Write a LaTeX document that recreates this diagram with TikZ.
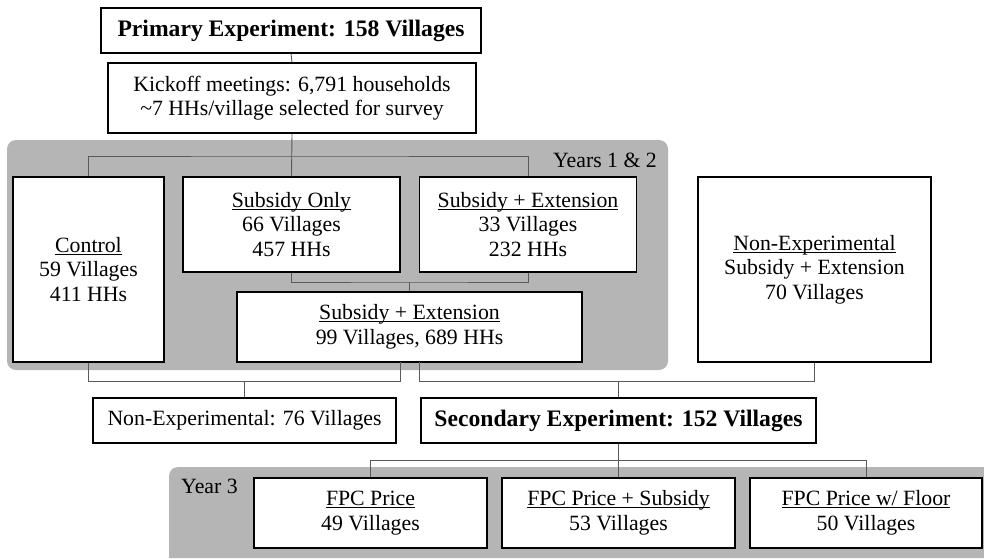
\documentclass[tikz,border=0pt]{standalone}
\usepackage{fontspec}
\setmainfont{Liberation Serif}
\definecolor{panelgray}{HTML}{B5B5B5}
\definecolor{linegray}{HTML}{5A5A5A}
\newlength\refw
\newlength\refb
\newcommand\mainfs{\fontsize{\fsz pt}{24.5pt}\selectfont}
\newcommand\boldfs{\fontsize{\fszb pt}{24.5pt}\selectfont\bfseries}
\newcommand\ul[1]{\leavevmode\setbox0\hbox{#1}\rlap{\rule[-2.2pt]{\wd0}{0.9pt}}\box0}
\begin{document}
\settowidth\refw{\fontsize{10pt}{12pt}\selectfont Non-Experimental: 76 Villages}%
\settowidth\refb{\fontsize{10pt}{12pt}\selectfont\bfseries Primary Experiment: 158 Villages}%
\pgfmathsetmacro\fsz{10*274/\refw}%
\pgfmathsetmacro\fszb{10*347/\refb}%
\begin{tikzpicture}[x=1pt,y=-1pt,
  box/.style={draw=black,line width=1.4pt,fill=white,rectangle,inner sep=0pt,align=center,font=\mainfs},
  conn/.style={draw=linegray,line width=0.9pt},
  lbl/.style={inner sep=0pt,font=\mainfs}]
\useasboundingbox (0,0) rectangle (984,558);
\fill[white] (0,0) rectangle (984,558);
% panels
\fill[panelgray,rounded corners=9pt] (7,140) rectangle (668,370);
\fill[panelgray] (984,558) -- (169,558) [rounded corners=9pt] -- (169,467) [sharp corners] -- (984,467) -- cycle;
\node[lbl,anchor=east] (y12) at (657,160) {Years 1 \& 2};
\node[lbl,anchor=west] (y3) at (181,486) {Year 3};
% junction coordinates
\coordinate (h1) at (291.5,156);
\coordinate (h2) at (409.5,282);
\coordinate (bigL) at (400,362);
\coordinate (bigR) at (419,362);
\coordinate (h3) at (244.5,381);
\coordinate (h4) at (618.5,381);
\coordinate (h5) at (618.5,460);
% boxes
\node[box,font=\boldfs,minimum width=380pt,minimum height=45pt] (prim) at (291,30.5) {Primary Experiment: 158 Villages};
\node[box,minimum width=368pt,minimum height=70pt] (kick) at (292,98) {Kickoff meetings: 6,791 households\\\textasciitilde7 HHs/village selected for survey};
\node[box,minimum width=151pt,minimum height=185pt] (ctrl) at (88.5,269.5) {\ul{Control}\\59 Villages\\411 HHs};
\node[box,minimum width=217pt,minimum height=95pt] (sonly) at (291.5,224.5) {\ul{Subsidy Only}\\66 Villages\\457 HHs};
\node[box,minimum width=217pt,minimum height=95pt] (sext) at (528,224.5) {\ul{Subsidy + Extension}\\33 Villages\\232 HHs};
\node[box,minimum width=345pt,minimum height=70pt] (big) at (409.5,327) {\ul{Subsidy + Extension}\\99 Villages, 689 HHs};
\node[box,minimum width=233pt,minimum height=185pt] (nonexpR) at (814.5,269.5) {\ul{Non-Experimental}\\Subsidy + Extension\\70 Villages};
\node[box,minimum width=303pt,minimum height=45pt] (nonexp) at (244.5,420.5) {Non-Experimental: 76 Villages};
\node[box,font=\boldfs,minimum width=395pt,minimum height=45pt] (sec) at (618.5,420.5) {Secondary Experiment: 152 Villages};
\node[box,minimum width=233pt,minimum height=70pt] (fpc) at (370.5,513) {\ul{FPC Price}\\49 Villages};
\node[box,minimum width=233pt,minimum height=70pt] (fpcs) at (618.5,513) {\ul{FPC Price + Subsidy}\\53 Villages};
\node[box,minimum width=232pt,minimum height=70pt] (fpcf) at (866,513) {\ul{FPC Price w/ Floor}\\50 Villages};
% connectors
\draw[conn] (prim.south) -- (kick.north);
\draw[conn] (kick.south) -- (sonly.north);
\draw[conn] (ctrl.north) |- (h1) -| (sext.north);
\draw[conn] (sonly.south) |- (h2) -| (sext.south);
\draw[conn] (h2) -- (big.north);
\draw[conn] (ctrl.south) |- (h3) -| (bigL);
\draw[conn] (h3) -- (nonexp.north);
\draw[conn] (bigR) |- (h4) -| (nonexpR.south);
\draw[conn] (h4) -- (sec.north);
\draw[conn] (sec.south) -- (fpcs.north);
\draw[conn] (fpc.north) |- (h5) -| (fpcf.north);
\end{tikzpicture}
\end{document}
